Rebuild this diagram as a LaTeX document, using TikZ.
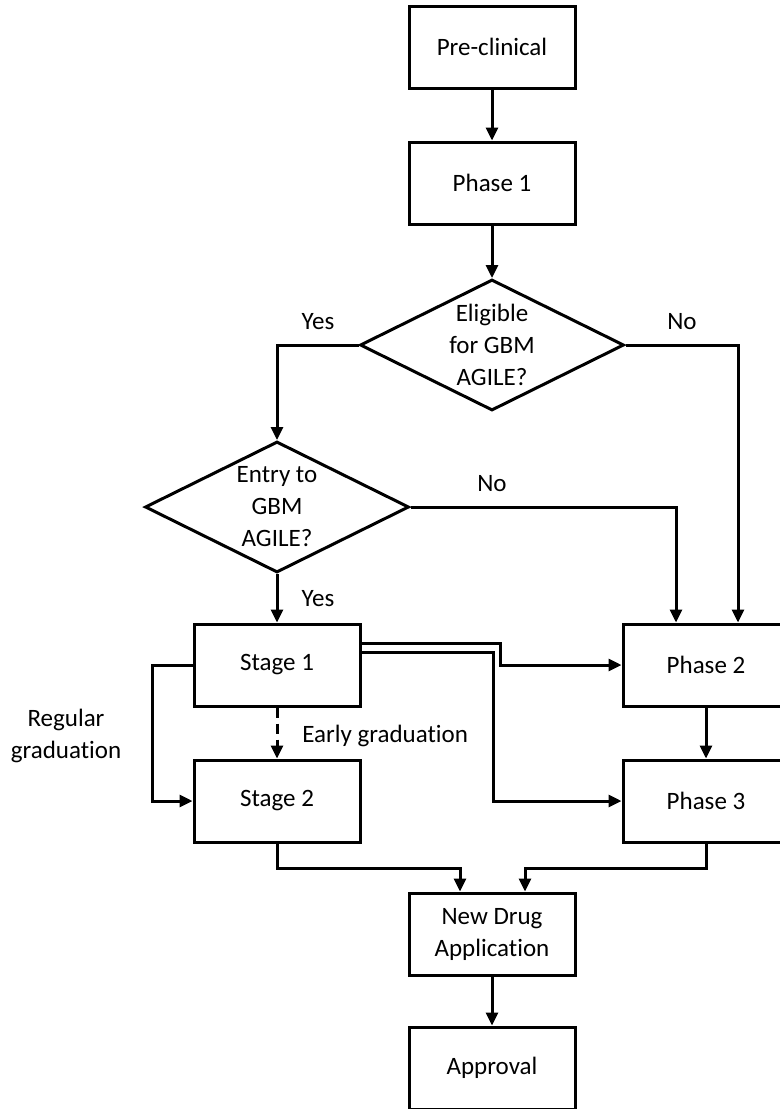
\documentclass[tikz,border=0pt]{standalone}
\usepackage{fontspec}
\setmainfont{Carlito}[Ligatures=NoCommon]
\usetikzlibrary{shapes.geometric,arrows.meta,positioning}

\begin{document}
\begin{tikzpicture}[x=0.5pt,y=-0.5pt,
  font=\fontsize{12.5}{16}\selectfont,
  stepbox/.style={draw, line width=1.5pt, minimum width=83pt, minimum height=41pt, inner sep=0pt, align=center},
  choice/.style={draw, diamond, aspect=2, line width=1.5pt, minimum width=132pt, minimum height=65.5pt, inner sep=0pt, align=center},
  arr/.style={line width=1.5pt, -{Triangle[length=6.5pt,width=6pt]}},
  lbl/.style={inner sep=0pt, anchor=base}]
\useasboundingbox (0,0) rectangle (780,1109);
% Drawing boxes
\node[stepbox] (pre) at (492,47) {Pre-clinical};
\node[stepbox] (ph1) at (492,183) {Phase 1};
\node[choice] (elig) at (492,345) {Eligible\\for GBM\\AGILE?};
\node[choice] (entry) at (277,507) {Entry to\\GBM\\AGILE?};
\node[stepbox] (st1) at (277,665) {Stage 1};
\node[stepbox] (st2) at (277,801) {Stage 2};
\node[stepbox] (ph2) at (706,665) {Phase 2};
\node[stepbox] (ph3) at (706,801) {Phase 3};
\node[stepbox] (nda) at (492,934) {New Drug\\Application};
\node[stepbox] (appr) at (492,1068) {Approval};
% Done with boxes; drawing labels
\node[lbl] (yes1) at (318,329) {Yes};
\node[lbl] (no1) at (682,329) {No};
\node[lbl] (no2) at (492,491) {No};
\node[lbl] (yes2) at (318,606) {Yes};
\node[lbl, anchor=base west] (early) at (302,742) {Early graduation};
\node[align=center, inner sep=0pt] (regular) at (66,736) {Regular\\graduation};
% Done with labels; drawing arrows
\draw[arr] (pre) -- (ph1);
\draw[arr] (ph1) -- (elig.north);
\draw[arr] (elig.west) -| (entry.north);
\draw[arr] (elig.east) -| ([xshift=16pt]ph2.north);
\draw[arr] (entry.east) -| ([xshift=-15pt]ph2.north);
\draw[arr] (entry.south) -- (st1);
\draw[arr, dash pattern=on 5pt off 3pt] (st1) -- (st2);
\draw[arr] (st1.west) -- ++(-40,0) |- (st2.west);
\draw[arr] ([yshift=11pt]st1.east) -- ++(139,0) |- (ph2.west);
\draw[arr] ([yshift=6.5pt]st1.east) -- ++(132,0) |- (ph3.west);
\draw[arr] (ph2) -- (ph3);
\draw[arr] (st2.south) -- ++(0,25) -| ([xshift=-16pt]nda.north);
\draw[arr] (ph3.south) -- ++(0,25) -| ([xshift=16.5pt]nda.north);
\draw[arr] (nda) -- (appr);
% Done with arrows
\end{tikzpicture}
\end{document}
